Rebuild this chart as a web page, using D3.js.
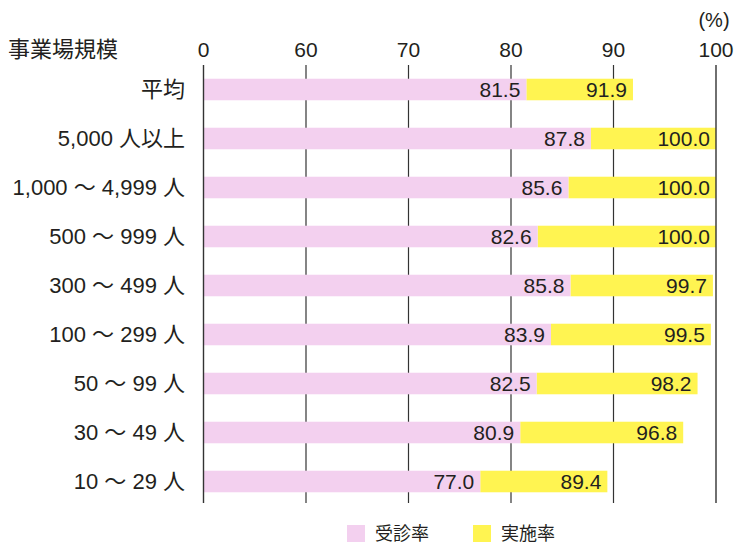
<!DOCTYPE html>
<html>
<head>
<meta charset="utf-8">
<script src="https://cdn.jsdelivr.net/npm/d3@7"></script>
<style>
  body { margin: 0; background: #fff; }
  text { font-family: "Liberation Sans", "Noto Sans CJK JP", sans-serif; fill: #231f20; }
</style>
</head>
<body>
<div id="chart"></div>
<script>
// data
var categories = ["平均", "5,000 人以上", "1,000 ～ 4,999 人", "500 ～ 999 人", "300 ～ 499 人",
                  "100 ～ 299 人", "50 ～ 99 人", "30 ～ 49 人", "10 ～ 29 人"];
var jushin = [81.5, 87.8, 85.6, 82.6, 85.8, 83.9, 82.5, 80.9, 77.0];   // 受診率
var jisshi = [91.9, 100.0, 100.0, 100.0, 99.7, 99.5, 98.2, 96.8, 89.4]; // 実施率
var ticks = [0, 60, 70, 80, 90, 100];
var seriesNames = ["受診率", "実施率"];

var pink = "#f3d0ef", yellow = "#fff451";

var svg = d3.select("#chart").append("svg")
    .attr("width", 737)
    .attr("height", 544);

// broken axis: 0-60 squeezed into one step
var x = d3.scaleLinear().domain([0, 60, 100]).range([203.5, 306, 716]);
var y = d3.scaleBand().domain(categories).range([65, 506]).paddingInner(0.56).paddingOuter(0.28);

var rows = categories.map((c, i) => ({cat: c, a: jushin[i], b: jisshi[i]}));

// gridlines behind the bars
svg.append("g").selectAll("line")
    .data(ticks.filter(t => t > 0 && t < 100))
    .enter().append("line")
    .attr("x1", d => x(d)).attr("x2", d => x(d))
    .attr("y1", 65).attr("y2", 503)
    .attr("stroke", "#333").attr("stroke-width", 1.2);

// tick labels on top
svg.append("g").selectAll("text")
    .data(ticks)
    .enter().append("text")
    .attr("x", d => x(d))
    .attr("y", 57)
    .attr("text-anchor", "middle")
    .style("font-size", "21px")
    .text(d => d);

svg.append("text").attr("x", 714).attr("y", 27).attr("text-anchor", "middle")
    .style("font-size", "20px").text("(%)");
svg.append("text").attr("x", 8).attr("y", 57)
    .style("font-size", "22px").text("事業場規模");

var g = svg.append("g");

// 実施率 (yellow) behind, 受診率 (pink) over it
g.selectAll(".b").data(rows).enter().append("rect")
    .attr("x", d => x(d.a))
    .attr("y", d => y(d.cat))
    .attr("width", d => x(d.b) - x(d.a))
    .attr("height", y.bandwidth())
    .attr("fill", yellow);

g.selectAll(".a").data(rows).enter().append("rect")
    .attr("x", x(0))
    .attr("y", d => y(d.cat))
    .attr("width", d => x(d.a) - x(0))
    .attr("height", y.bandwidth())
    .attr("fill", pink);

// value labels
g.selectAll(".la").data(rows).enter().append("text")
    .attr("x", d => x(d.a) - 6)
    .attr("y", d => y(d.cat) + y.bandwidth() / 2 + 7)
    .attr("text-anchor", "end")
    .style("font-size", "21px")
    .text(d => d.a.toFixed(1));

g.selectAll(".lb").data(rows).enter().append("text")
    .attr("x", d => x(d.b) - 6)
    .attr("y", d => y(d.cat) + y.bandwidth() / 2 + 7)
    .attr("text-anchor", "end")
    .style("font-size", "21px")
    .text(d => d.b.toFixed(1));

// category labels
svg.append("g").selectAll("text")
    .data(categories)
    .enter().append("text")
    .attr("x", 185)
    .attr("y", d => y(d) + y.bandwidth() / 2 + 7)
    .attr("text-anchor", "end")
    .style("font-size", "22px")
    .text(d => d);

// 0 and 100 lines over the bars
svg.append("g").selectAll("line")
    .data([0, 100])
    .enter().append("line")
    .attr("x1", d => x(d)).attr("x2", d => x(d))
    .attr("y1", 65).attr("y2", 503)
    .attr("stroke", "#333").attr("stroke-width", 1.4);

// legend
var leg = svg.append("g");
var legX = [347, 473];
seriesNames.forEach(function(n, i) {
    leg.append("rect").attr("x", legX[i]).attr("y", 525).attr("width", 18).attr("height", 17)
        .attr("fill", i == 0 ? pink : yellow);
    leg.append("text").attr("x", legX[i] + 28).attr("y", 540)
        .style("font-size", "18px").text(n);
});
</script>
</body>
</html>
